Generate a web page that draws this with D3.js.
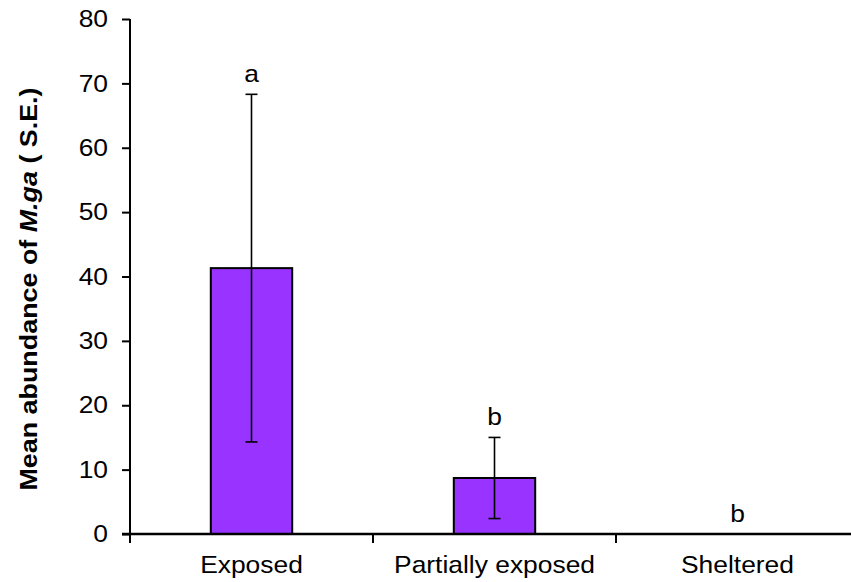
<!DOCTYPE html>
<html>
<head>
<meta charset="utf-8">
<script src="https://cdn.jsdelivr.net/npm/d3@7"></script>
<style>
  html, body { margin: 0; padding: 0; background: #fff; }
  svg text { font-family: "Liberation Sans", Arial, sans-serif; fill: #000; }
</style>
</head>
<body>
<svg id="chart" width="851" height="582"></svg>
<script>
// Mean abundance per site exposure with standard errors and significance letters
const categories = ["Exposed", "Partially exposed", "Sheltered"];
const means = [41.3, 8.7, 0];
const stdErrors = [27.0, 6.3, 0];
const groupLetters = ["a", "b", "b"];
const yTicks = [0, 10, 20, 30, 40, 50, 60, 70, 80];

const svg = d3.select("#chart");
const plotLeft = 130, plotTop = 19, plotBottom = 534;
const step = 243;
const fontPx = 24;
const widen = 1.1; // slightly wide lettering

const x = d3.scaleBand()
  .domain(categories)
  .range([plotLeft, plotLeft + step * categories.length])
  .padding(0);

const y = d3.scaleLinear().domain([0, 80]).range([plotBottom, plotTop]);

// Bars
const barFrac = 0.335;
svg.selectAll("rect.bar")
  .data(categories)
  .join("rect")
  .attr("class", "bar")
  .attr("x", c => x(c) + x.bandwidth() * (1 - barFrac) / 2)
  .attr("width", x.bandwidth() * barFrac)
  .attr("y", (c, i) => y(means[i]))
  .attr("height", (c, i) => y(0) - y(means[i]))
  .attr("fill", "#9933FF")
  .attr("stroke", "#000")
  .attr("stroke-width", 2)
  .style("display", (c, i) => means[i] > 0 ? null : "none");

// Error bars
const capW = 12;
categories.forEach((c, i) => {
  if (stdErrors[i] <= 0) return;
  const cx = x(c) + x.bandwidth() / 2;
  const g = svg.append("g").attr("stroke", "#000").attr("stroke-width", 1.6);
  g.append("line").attr("x1", cx).attr("x2", cx)
    .attr("y1", y(means[i] + stdErrors[i])).attr("y2", y(means[i] - stdErrors[i]));
  [means[i] + stdErrors[i], means[i] - stdErrors[i]].forEach(v => {
    g.append("line").attr("x1", cx - capW / 2).attr("x2", cx + capW / 2)
      .attr("y1", y(v)).attr("y2", y(v));
  });
});

// Significance letters
svg.selectAll("text.letter")
  .data(categories)
  .join("text")
  .attr("class", "letter")
  .attr("transform", (c, i) =>
    `translate(${x(c) + x.bandwidth() / 2},${y(means[i] + stdErrors[i]) - 12}) scale(${widen},1)`)
  .attr("text-anchor", "middle")
  .style("font-size", fontPx + "px")
  .text((c, i) => groupLetters[i]);

// Y axis
const yAxis = svg.append("g")
  .attr("transform", `translate(${plotLeft},0)`)
  .call(d3.axisLeft(y).tickValues(yTicks).tickSize(8).tickPadding(12).tickFormat(d3.format("d")));
yAxis.attr("font-family", null).attr("font-size", null);
yAxis.select(".domain").attr("stroke-width", 2).attr("d", `M0,${plotTop}V${plotBottom}`);
yAxis.selectAll(".tick line").attr("stroke-width", 2);
yAxis.selectAll(".tick text")
  .style("font-size", fontPx + "px")
  .attr("transform", `scale(${widen},1)`);

// X axis with ticks at category boundaries
const xAxisG = svg.append("g");
xAxisG.append("line")
  .attr("x1", plotLeft - 8).attr("x2", x.range()[1])
  .attr("y1", plotBottom).attr("y2", plotBottom)
  .attr("stroke", "#000").attr("stroke-width", 2.5);
const boundaries = categories.map(c => x(c)).concat([x.range()[1]]);
xAxisG.selectAll("line.xt")
  .data(boundaries)
  .join("line")
  .attr("class", "xt")
  .attr("x1", d => d).attr("x2", d => d)
  .attr("y1", plotBottom).attr("y2", plotBottom + 9)
  .attr("stroke", "#000").attr("stroke-width", 2);
xAxisG.selectAll("text.cat")
  .data(categories)
  .join("text")
  .attr("class", "cat")
  .attr("transform", c => `translate(${x(c) + x.bandwidth() / 2},573) scale(${widen},1)`)
  .attr("text-anchor", "middle")
  .style("font-size", fontPx + "px")
  .text(c => c);

// Y axis title
const title = svg.append("text")
  .attr("transform", `translate(37,289) rotate(-90) scale(1.12,1)`)
  .attr("text-anchor", "middle")
  .style("font-size", "24px")
  .style("font-weight", "bold");
title.append("tspan").text("Mean abundance of ");
title.append("tspan").style("font-style", "italic").text("M.ga");
title.append("tspan").text(" ( S.E.)");
</script>
</body>
</html>
